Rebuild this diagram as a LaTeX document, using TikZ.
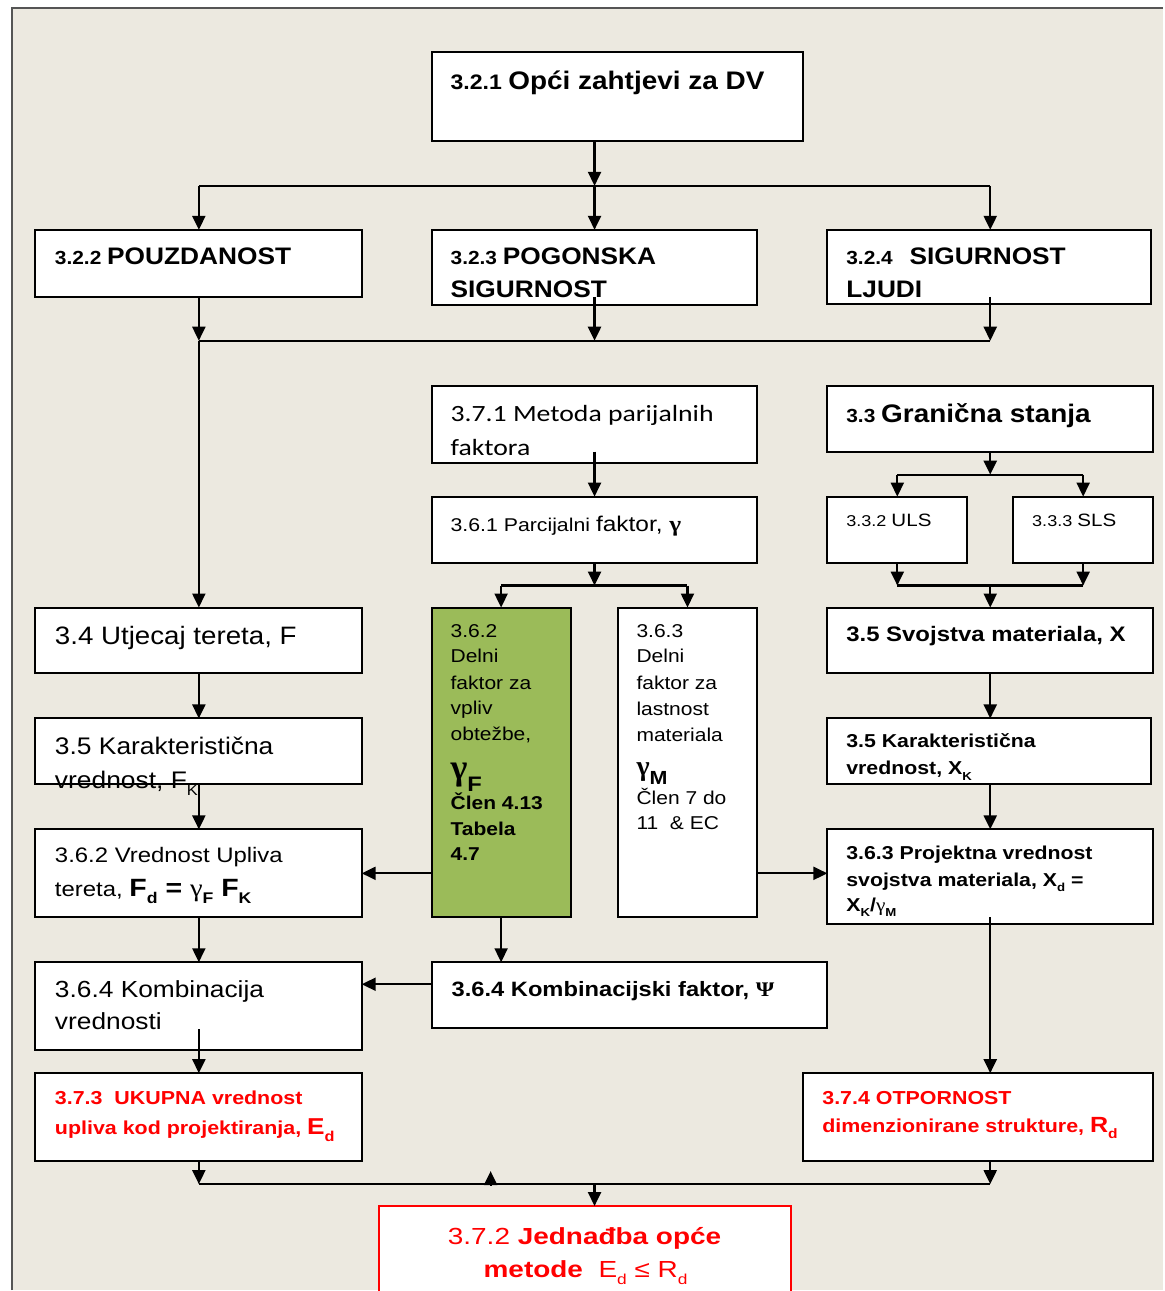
\documentclass[tikz,border=0pt]{standalone}
\usepackage{fontspec}
\setmainfont{Liberation Sans}
\newfontfamily\calfont{Carlito}
\newfontfamily\serffont{Liberation Serif}
\usetikzlibrary{arrows.meta,calc}
\definecolor{paper}{RGB}{236,233,224}
\definecolor{frame}{RGB}{85,85,85}
\definecolor{leaf}{RGB}{155,187,89}
\definecolor{alert}{RGB}{255,0,0}
\newcommand\fs[1]{\fontsize{#1}{#1}\selectfont}
\newcommand\hs[2]{\scalebox{#1}[1]{#2}}
\newcommand\dn[1]{\raisebox{-0.3em}{\scalebox{0.62}{#1}}}
\newcommand\gr[1]{{\serffont #1}}
\begin{document}
\begin{tikzpicture}[x=1pt,y=-1pt,
  box/.style={draw=black, line width=2pt, fill=white, anchor=north west, inner sep=0pt, outer sep=0pt},
  txt/.style={anchor=base west, inner sep=0pt, outer sep=0pt},
  link/.style={line width=2.2pt},
  arr/.style={line width=2.2pt, -{Triangle[length=14pt,width=13pt]}},
]
% page and frame
\fill[white] (0,0) rectangle (1164,1291);
\fill[paper] (12,8) rectangle (1164,1291);
\draw[frame, line width=2pt] (12,1291) -- (12,8) -- (1164,8);
\useasboundingbox (0,0) rectangle (1164,1291);

% boxes
\node[box, minimum width=372pt, minimum height=89pt] (b321) at (432,52) {};
\node[box, minimum width=327pt, minimum height=67pt] (b322) at (35,230) {};
\node[box, minimum width=326pt, minimum height=75pt] (b323) at (432,230) {};
\node[box, minimum width=324pt, minimum height=74pt] (b324) at (828,230) {};
\node[box, minimum width=326pt, minimum height=77pt] (b371) at (432,386) {};
\node[box, minimum width=326pt, minimum height=66pt] (b33) at (828,386) {};
\node[box, minimum width=326pt, minimum height=66pt] (b361) at (432,497) {};
\node[box, minimum width=140pt, minimum height=66pt] (b332) at (828,497) {};
\node[box, minimum width=140pt, minimum height=66pt] (b333) at (1014,497) {};
\node[box, minimum width=327pt, minimum height=66pt] (b34) at (35,608) {};
\node[box, fill=leaf, minimum width=139pt, minimum height=310pt] (b362g) at (432,608) {};
\node[box, minimum width=140pt, minimum height=310pt] (b363) at (618,608) {};
\node[box, minimum width=326pt, minimum height=66pt] (b35X) at (828,608) {};
\node[box, minimum width=327pt, minimum height=66pt] (b35K) at (35,719) {};
\node[box, minimum width=324pt, minimum height=66pt] (b35XK) at (828,719) {};
\node[box, minimum width=327pt, minimum height=88pt] (b362) at (35,830) {};
\node[box, minimum width=326pt, minimum height=95pt] (b363P) at (828,830) {};
\node[box, minimum width=327pt, minimum height=88pt] (b364) at (35,963) {};
\node[box, minimum width=396pt, minimum height=66pt] (b364K) at (432,963) {};
\node[box, minimum width=327pt, minimum height=88pt] (b373) at (35,1074) {};
\node[box, minimum width=350pt, minimum height=88pt] (b374) at (804,1074) {};
\node[box, draw=alert, minimum width=413pt, minimum height=100pt] (b372) at (379,1207) {};

% columns and junctions
\coordinate (cL) at (199,0);
\coordinate (cM) at (595,0);
\coordinate (cR) at (991,0);
\coordinate (jA) at (595,186);
\coordinate (jB) at (595,341);
\coordinate (jC) at (595,586);
\coordinate (jD) at (991,475);
\coordinate (jE) at (991,586);
\coordinate (jF) at (595,1185);
\coordinate (hF) at (0,874);
\coordinate (hK) at (0,985);
\coordinate (tk) at (491,1186);

% fan-out from the general requirements
\draw[arr] (cM |- b321.south) -- (jA);
\draw[link] (cL |- jA) -- (cR |- jA);
\draw[arr] (cL |- jA) -- (cL |- b322.north);
\draw[arr] (jA) -- (cM |- b323.north);
\draw[arr] (cR |- jA) -- (cR |- b324.north);
% merge into the load path
\draw[arr] (cL |- b322.south) -- (cL |- jB);
\draw[arr] ($(cM |- b323.south)+(0,-8)$) -- (jB);
\draw[arr] ($(cR |- b324.south)+(0,-7)$) -- (cR |- jB);
\draw[link] (cL |- jB) -- (cR |- jB);
\draw[arr] (cL |- jB) -- (cL |- b34.north);
% partial factors
\draw[arr] ($(cM |- b371.south)+(0,-11)$) -- (cM |- b361.north);
\draw[arr] (cM |- b361.south) -- (jC);
\draw[link] (b362g.north |- jC) -- (b363.north |- jC);
\draw[arr] (b362g.north |- jC) -- (b362g.north);
\draw[arr] (b363.north |- jC) -- (b363.north);
% limit states
\draw[arr] (cR |- b33.south) -- (jD);
\draw[link] (b332.north |- jD) -- (b333.north |- jD);
\draw[arr] (b332.north |- jD) -- (b332.north);
\draw[arr] (b333.north |- jD) -- (b333.north);
\draw[arr] (b332.south) -- (b332.south |- jE);
\draw[arr] (b333.south) -- (b333.south |- jE);
\draw[link] (b332.south |- jE) -- (b333.south |- jE);
\draw[arr] (jE) -- (cR |- b35X.north);
% load side
\draw[arr] (cL |- b34.south) -- (cL |- b35K.north);
\draw[arr] (cL |- b35K.south) -- (cL |- b362.north);
\draw[arr] (b362g.west |- hF) -- (b362.east |- hF);
\draw[arr] (cL |- b362.south) -- (cL |- b364.north);
\draw[arr] (b362g.south) -- (b362g.south |- b364K.north);
\draw[arr] (b364K.west |- hK) -- (b364.east |- hK);
\draw[arr] ($(cL |- b364.south)+(0,-21)$) -- (cL |- b373.north);
% material side
\draw[arr] (b363.east |- hF) -- (b363P.west |- hF);
\draw[arr] (cR |- b35X.south) -- (cR |- b35XK.north);
\draw[arr] (cR |- b35XK.south) -- (cR |- b363P.north);
\draw[arr] ($(cR |- b363P.south)+(0,-7)$) -- (cR |- b374.north);
% final check
\draw[arr] (cL |- b373.south) -- (cL |- jF);
\draw[arr] (cR |- b374.south) -- (cR |- jF);
\draw[link] (cL |- jF) -- (cR |- jF);
\draw[arr] (jF) -- (jF |- b372.north);
\draw[arr] (tk) -- ++(0,-14);

% texts
\node[txt] (t321) at (451,90) {\hs{1.1}{\bfseries\fs{21}3.2.1 \fs{25.4}Opći zahtjevi za DV}};
\node[txt] (t322) at (55,265) {\hs{1.1}{\bfseries\fs{19}3.2.2 \fs{23.9}POUZDANOST}};
\node[txt] (t323a) at (451,265) {\hs{1.1}{\bfseries\fs{19}3.2.3 \fs{23.9}POGONSKA}};
\node[txt] (t323b) at (451,298) {\hs{1.1}{\bfseries\fs{23.9}SIGURNOST}};
\node[txt] (t324a) at (847,265) {\hs{1.1}{\bfseries\fs{19}3.2.4\hspace{10pt} \fs{23.9}SIGURNOST}};
\node[txt] (t324b) at (847,298) {\hs{1.1}{\bfseries\fs{23.9}LJUDI}};

\node[txt] (t371a) at (451,422) {\calfont\hs{1.19}{\fs{23.3}3.7.1 Metoda parijalnih}};
\node[txt] (t371b) at (451,456) {\calfont\hs{1.19}{\fs{23.3}faktora}};
\node[txt] (t33) at (847,423) {\hs{1.1}{\bfseries\fs{19}3.3 \fs{25.4}Granična stanja}};
\node[txt] (t361) at (451,532) {\hs{1.15}{\fs{18.5}3.6.1 Parcijalni \fs{21.3}faktor,\ \gr{\bfseries\fs{22}γ}}};
\node[txt] (t332) at (847,527) {\hs{1.15}{\fs{15.7}3.3.2 \fs{17.9}ULS}};
\node[txt] (t333) at (1033,527) {\hs{1.15}{\fs{15.7}3.3.3 \fs{17.9}SLS}};

\node[txt] (t34) at (55,645) {\hs{1.1}{\fs{25.2}3.4 Utjecaj tereta, F}};
\node[txt] (t35Ka) at (55,755) {\hs{1.1}{\fs{24}3.5 Karakteristična}};
\node[txt] (t35Kb) at (55,789) {\hs{1.1}{\fs{24}vrednost, F\dn{K}}};
\node[txt] (t362a) at (55,863) {\hs{1.14}{\fs{21}3.6.2 Vrednost Upliva}};
\node[txt] (t362b) at (55,897) {\hs{1.14}{\fs{21}tereta, \bfseries\fs{25}F\dn{d} = \gr{\mdseries γ}\dn{F} F\dn{K}}};
\node[txt] (t364a) at (55,998) {\hs{1.13}{\fs{23.3}3.6.4 Kombinacija}};
\node[txt] (t364b) at (55,1030) {\hs{1.13}{\fs{23.3}vrednosti}};
\node[txt] (t364K) at (452,997) {\hs{1.14}{\bfseries\fs{20.8}3.6.4 Kombinacijski faktor, \gr{Ψ}}};
\node[txt, text=alert] (t373a) at (55,1105) {\hs{1.14}{\bfseries\fs{18.8}3.7.3\ \ UKUPNA vrednost}};
\node[txt, text=alert] (t373b) at (55,1135) {\hs{1.14}{\bfseries\fs{18.8}upliva kod projektiranja, \fs{23}E\dn{d}}};
\node[txt, text=alert] (t374a) at (823,1105) {\hs{1.14}{\bfseries\fs{18.8}3.7.4 OTPORNOST}};
\node[txt, text=alert] (t374b) at (823,1133) {\hs{1.14}{\bfseries\fs{18.8}dimenzionirane strukture, \fs{22}R\dn{d}}};

% partial factor for actions
\node[txt] (tg1) at (451,638) {\hs{1.13}{\fs{18.6}3.6.2}};
\node[txt] (tg2) at (451,663) {\hs{1.13}{\fs{18.6}Delni}};
\node[txt] (tg3) at (451,690) {\hs{1.13}{\fs{18.6}faktor za}};
\node[txt] (tg4) at (451,715) {\hs{1.13}{\fs{18.6}vpliv}};
\node[txt] (tg5) at (451,741) {\hs{1.13}{\fs{18.6}obtežbe,}};
\node[txt] (tg6) at (451,780) {\gr{\bfseries\fs{36}γ}\raisebox{-12pt}{\hs{1.13}{\bfseries\fs{21}F}}};
\node[txt] (tg7) at (451,810) {\hs{1.13}{\bfseries\fs{18.6}Člen 4.13}};
\node[txt] (tg8) at (451,836) {\hs{1.13}{\bfseries\fs{18.6}Tabela}};
\node[txt] (tg9) at (451,861) {\hs{1.13}{\bfseries\fs{18.6}4.7}};
% partial factor for materials
\node[txt] (tw1) at (637,638) {\hs{1.13}{\fs{18.6}3.6.3}};
\node[txt] (tw2) at (637,663) {\hs{1.13}{\fs{18.6}Delni}};
\node[txt] (tw3) at (637,690) {\hs{1.13}{\fs{18.6}faktor za}};
\node[txt] (tw4) at (637,716) {\hs{1.13}{\fs{18.6}lastnost}};
\node[txt] (tw5) at (637,742) {\hs{1.13}{\fs{18.6}materiala}};
\node[txt] (tw6) at (637,776) {\gr{\bfseries\fs{28}γ}\raisebox{-9pt}{\hs{1.13}{\bfseries\fs{19}M}}};
\node[txt] (tw7) at (637,805) {\hs{1.13}{\fs{18.6}Člen 7 do}};
\node[txt] (tw8) at (637,830) {\hs{1.13}{\fs{18.6}11\ \ \& EC}};

\node[txt] (t35X) at (847,642) {\hs{1.14}{\bfseries\fs{21}3.5 Svojstva materiala, X}};
\node[txt] (t35XKa) at (847,748) {\hs{1.14}{\bfseries\fs{18.7}3.5 Karakteristična}};
\node[txt] (t35XKb) at (847,775) {\hs{1.14}{\bfseries\fs{18.7}vrednost, X\dn{K}}};
\node[txt] (t363Pa) at (847,860) {\hs{1.14}{\bfseries\fs{18.7}3.6.3 Projektna vrednost}};
\node[txt] (t363Pb) at (847,887) {\hs{1.14}{\bfseries\fs{18.7}svojstva materiala, X\dn{d} =}};
\node[txt] (t363Pc) at (847,912) {\hs{1.14}{\bfseries\fs{18.7}X\dn{K}/\gr{\mdseries γ}\dn{M}}};

\node[anchor=base, inner sep=0pt, text=alert] (t372a) at (585,1245) {\hs{1.2}{\fs{23.3}3.7.2 \bfseries Jednađba opće}};
\node[anchor=base, inner sep=0pt, text=alert] (t372b) at (586,1278) {\hs{1.2}{\fs{23.3}\bfseries metode\ \ \mdseries E\dn{d} ≤ R\dn{d}}};
\end{tikzpicture}
\end{document}
